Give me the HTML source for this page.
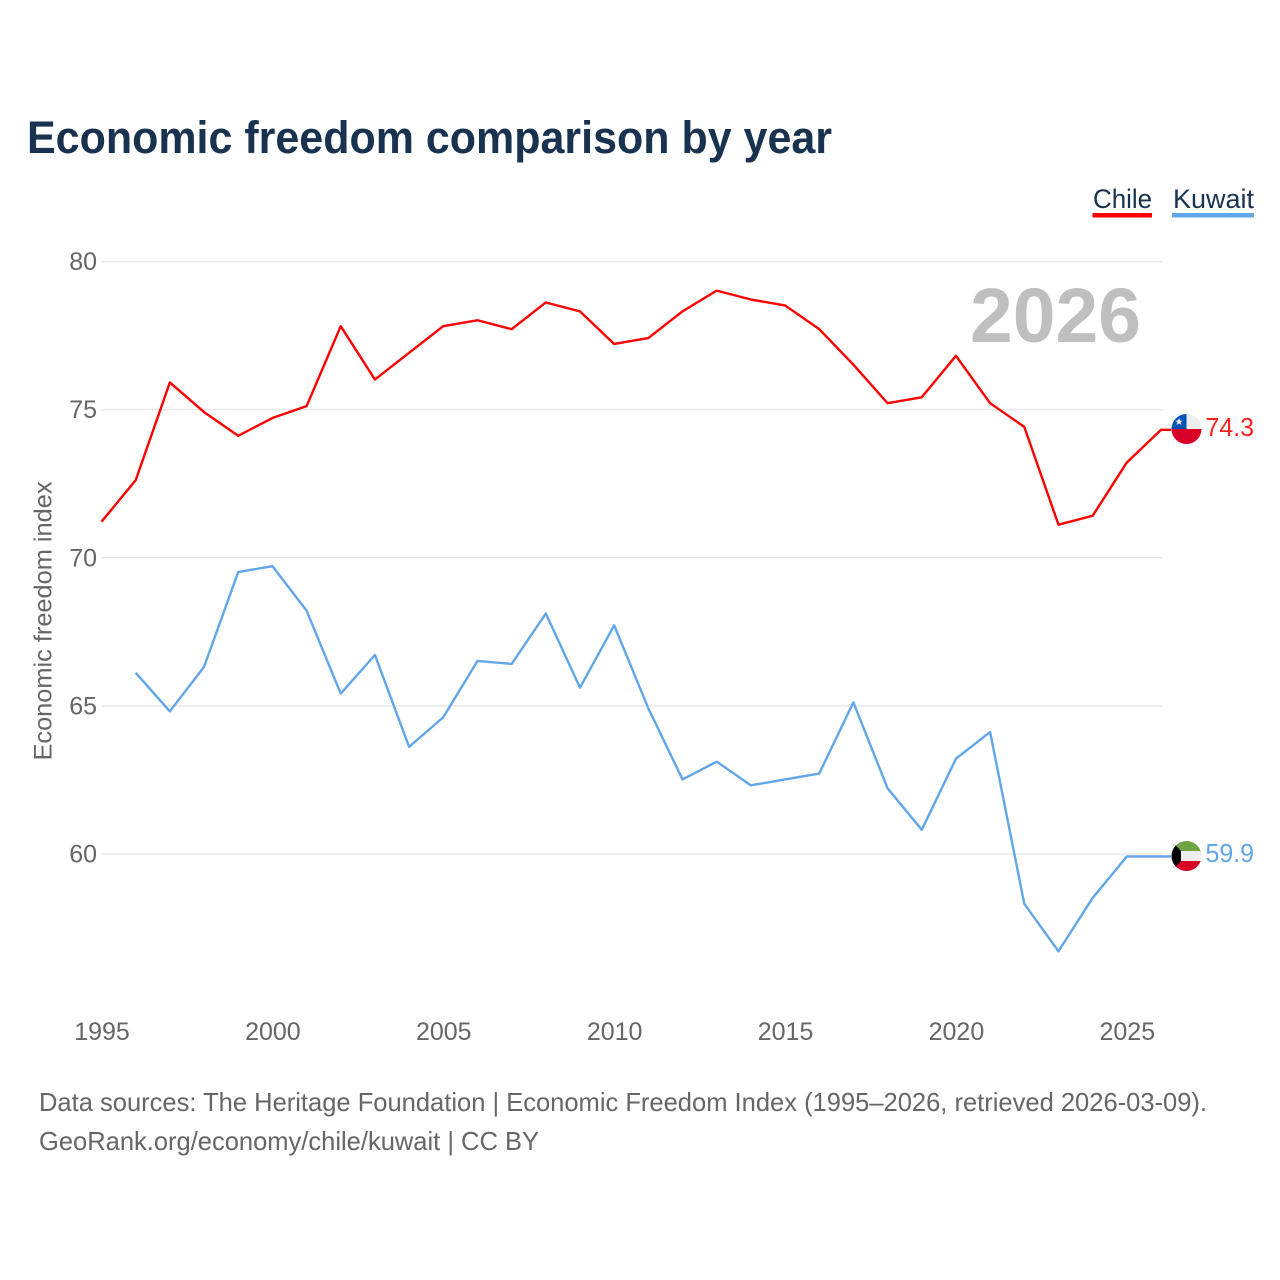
<!DOCTYPE html>
<html lang="en">
<head>
<meta charset="utf-8">
<title>Economic freedom comparison by year</title>
<style>
html,body{margin:0;padding:0;background:#fff;width:1280px;height:1280px;overflow:hidden}
svg{display:block}
text{font-family:"Liberation Sans",sans-serif}
</style>
</head>
<body>
<svg id="chart" xmlns="http://www.w3.org/2000/svg" width="1280" height="1280" viewBox="0 0 1280 1280">
  <defs>
    <clipPath id="flag-clip-chile"><circle cx="0" cy="0" r="15"/></clipPath>
    <clipPath id="flag-clip-kuwait"><circle cx="0" cy="0" r="15"/></clipPath>
  </defs>
  <rect width="1280" height="1280" fill="#fff"/>
  <text x="27" y="153" font-size="45" font-weight="700" fill="#18324f" textLength="805" lengthAdjust="spacingAndGlyphs">Economic freedom comparison by year</text>

  <g id="legend">
    <g>
      <text x="1093" y="208" font-size="27" fill="#18324f" textLength="59" lengthAdjust="spacingAndGlyphs">Chile</text>
      <rect x="1092.5" y="213" width="59.5" height="4.5" fill="#ff0000"/>
    </g>
    <g>
      <text x="1173" y="208" font-size="27" fill="#18324f" textLength="81" lengthAdjust="spacingAndGlyphs">Kuwait</text>
      <rect x="1172" y="213" width="82" height="4.5" fill="#62a6ea"/>
    </g>
  </g>

  <g id="grid"></g>
  <g id="y-ticks"></g>
  <g id="x-ticks"></g>

  <text x="1141" y="342" text-anchor="end" font-size="77" font-weight="700" fill="#bfbfbf" textLength="171" lengthAdjust="spacingAndGlyphs">2026</text>

  <text transform="translate(51.5,621) rotate(-90)" text-anchor="middle" font-size="25" fill="#666666" textLength="279" lengthAdjust="spacingAndGlyphs">Economic freedom index</text>

  <g id="series"></g>

  <g id="flag-chile" transform="translate(1186.5,429)">
    <g clip-path="url(#flag-clip-chile)">
      <rect x="-15" y="-15" width="30" height="15" fill="#eeeeee"/>
      <rect x="-15" y="0" width="30" height="15" fill="#d80027"/>
      <rect x="-15" y="-15" width="15" height="15" fill="#0052b4"/>
      <polygon points="-7.5,-11 -6.4,-8.4 -3.7,-8.4 -5.9,-6.7 -5,-4 -7.5,-5.6 -10,-4 -9.1,-6.7 -11.3,-8.4 -8.6,-8.4" fill="#eeeeee"/>
    </g>
  </g>
  <g id="flag-kuwait" transform="translate(1186.5,856)">
    <g clip-path="url(#flag-clip-kuwait)">
      <rect x="-15" y="-15" width="30" height="10" fill="#6da544"/>
      <rect x="-15" y="-5" width="30" height="10" fill="#eeeeee"/>
      <rect x="-15" y="5" width="30" height="10" fill="#d80027"/>
      <polygon points="-15,-15 -5.5,-5 -5.5,5 -15,15" fill="#000000"/>
    </g>
  </g>

  <text id="value-chile" x="1205.5" y="436" font-size="26" fill="#ff2020" textLength="48.5" lengthAdjust="spacingAndGlyphs"></text>
  <text id="value-kuwait" x="1205.5" y="862" font-size="26" fill="#62a6ea" textLength="48.5" lengthAdjust="spacingAndGlyphs"></text>

  <g>
    <text x="39" y="1111" font-size="26" fill="#666666" textLength="1168" lengthAdjust="spacingAndGlyphs">Data sources: The Heritage Foundation | Economic Freedom Index (1995–2026, retrieved 2026-03-09).</text>
    <text x="39" y="1150" font-size="26" fill="#666666" textLength="500" lengthAdjust="spacingAndGlyphs">GeoRank.org/economy/chile/kuwait | CC BY</text>
  </g>
</svg>
<script>
const years = [1995,1996,1997,1998,1999,2000,2001,2002,2003,2004,2005,2006,2007,2008,2009,2010,2011,2012,2013,2014,2015,2016,2017,2018,2019,2020,2021,2022,2023,2024,2025,2026];
const chileValues = [71.2,72.6,75.9,74.9,74.1,74.7,75.1,77.8,76.0,76.9,77.8,78.0,77.7,78.6,78.3,77.2,77.4,78.3,79.0,78.7,78.5,77.7,76.5,75.2,75.4,76.8,75.2,74.4,71.1,71.4,73.2,74.3];
const kuwaitValues = [null,66.1,64.8,66.3,69.5,69.7,68.2,65.4,66.7,63.6,64.6,66.5,66.4,68.1,65.6,67.7,64.9,62.5,63.1,62.3,62.5,62.7,65.1,62.2,60.8,63.2,64.1,58.3,56.7,58.5,59.9,59.9];
const yTickValues = [80,75,70,65,60];
const xTickValues = [1995,2000,2005,2010,2015,2020,2025];

const NS = 'http://www.w3.org/2000/svg';
function xScale(year){ return 101.5 + (year - 1995) * (1161 - 101.5) / 31; }
function yScale(value){ return 261.5 + (80 - value) * (854 - 261.5) / 20; }

const gridGroup = document.getElementById('grid');
const yTickGroup = document.getElementById('y-ticks');
const xTickGroup = document.getElementById('x-ticks');
const seriesGroup = document.getElementById('series');

yTickValues.forEach(function(v){
  const line = document.createElementNS(NS, 'line');
  line.setAttribute('x1', 102);
  line.setAttribute('x2', 1162);
  line.setAttribute('y1', yScale(v));
  line.setAttribute('y2', yScale(v));
  line.setAttribute('stroke', '#e8e8e8');
  line.setAttribute('stroke-width', '1.5');
  
  
  gridGroup.appendChild(line);

  const label = document.createElementNS(NS, 'text');
  label.setAttribute('x', 97);
  label.setAttribute('y', yScale(v) + 8.5);
  label.setAttribute('text-anchor', 'end');
  label.setAttribute('font-size', '25');
  label.setAttribute('fill', '#666666');
  
  
  label.textContent = v;
  yTickGroup.appendChild(label);
});

xTickValues.forEach(function(y){
  const label = document.createElementNS(NS, 'text');
  label.setAttribute('x', xScale(y) + 0.5);
  label.setAttribute('y', 1040);
  label.setAttribute('text-anchor', 'middle');
  label.setAttribute('font-size', '25');
  label.setAttribute('fill', '#666666');
  
  
  label.textContent = y;
  xTickGroup.appendChild(label);
});

function drawSeries(values, color){
  let d = '';
  let lastValue = null;
  values.forEach(function(v, i){
    if (v === null) return;
    d += (d ? 'L' : 'M') + xScale(years[i]).toFixed(2) + ' ' + (yScale(v) - 0.5).toFixed(2);
    lastValue = v;
  });
  d += 'L1171 ' + (yScale(lastValue) - 0.5).toFixed(2);
  const path = document.createElementNS(NS, 'path');
  path.setAttribute('d', d);
  path.setAttribute('fill', 'none');
  path.setAttribute('stroke', color);
  path.setAttribute('stroke-width', '2.4');
  path.setAttribute('stroke-linejoin', 'round');
  
  
  seriesGroup.appendChild(path);
}
drawSeries(chileValues, '#ff0000');
drawSeries(kuwaitValues, '#62a6ea');

document.getElementById('value-chile').textContent = chileValues[chileValues.length - 1].toFixed(1);
document.getElementById('value-kuwait').textContent = kuwaitValues[kuwaitValues.length - 1].toFixed(1);
</script>
</body>
</html>
